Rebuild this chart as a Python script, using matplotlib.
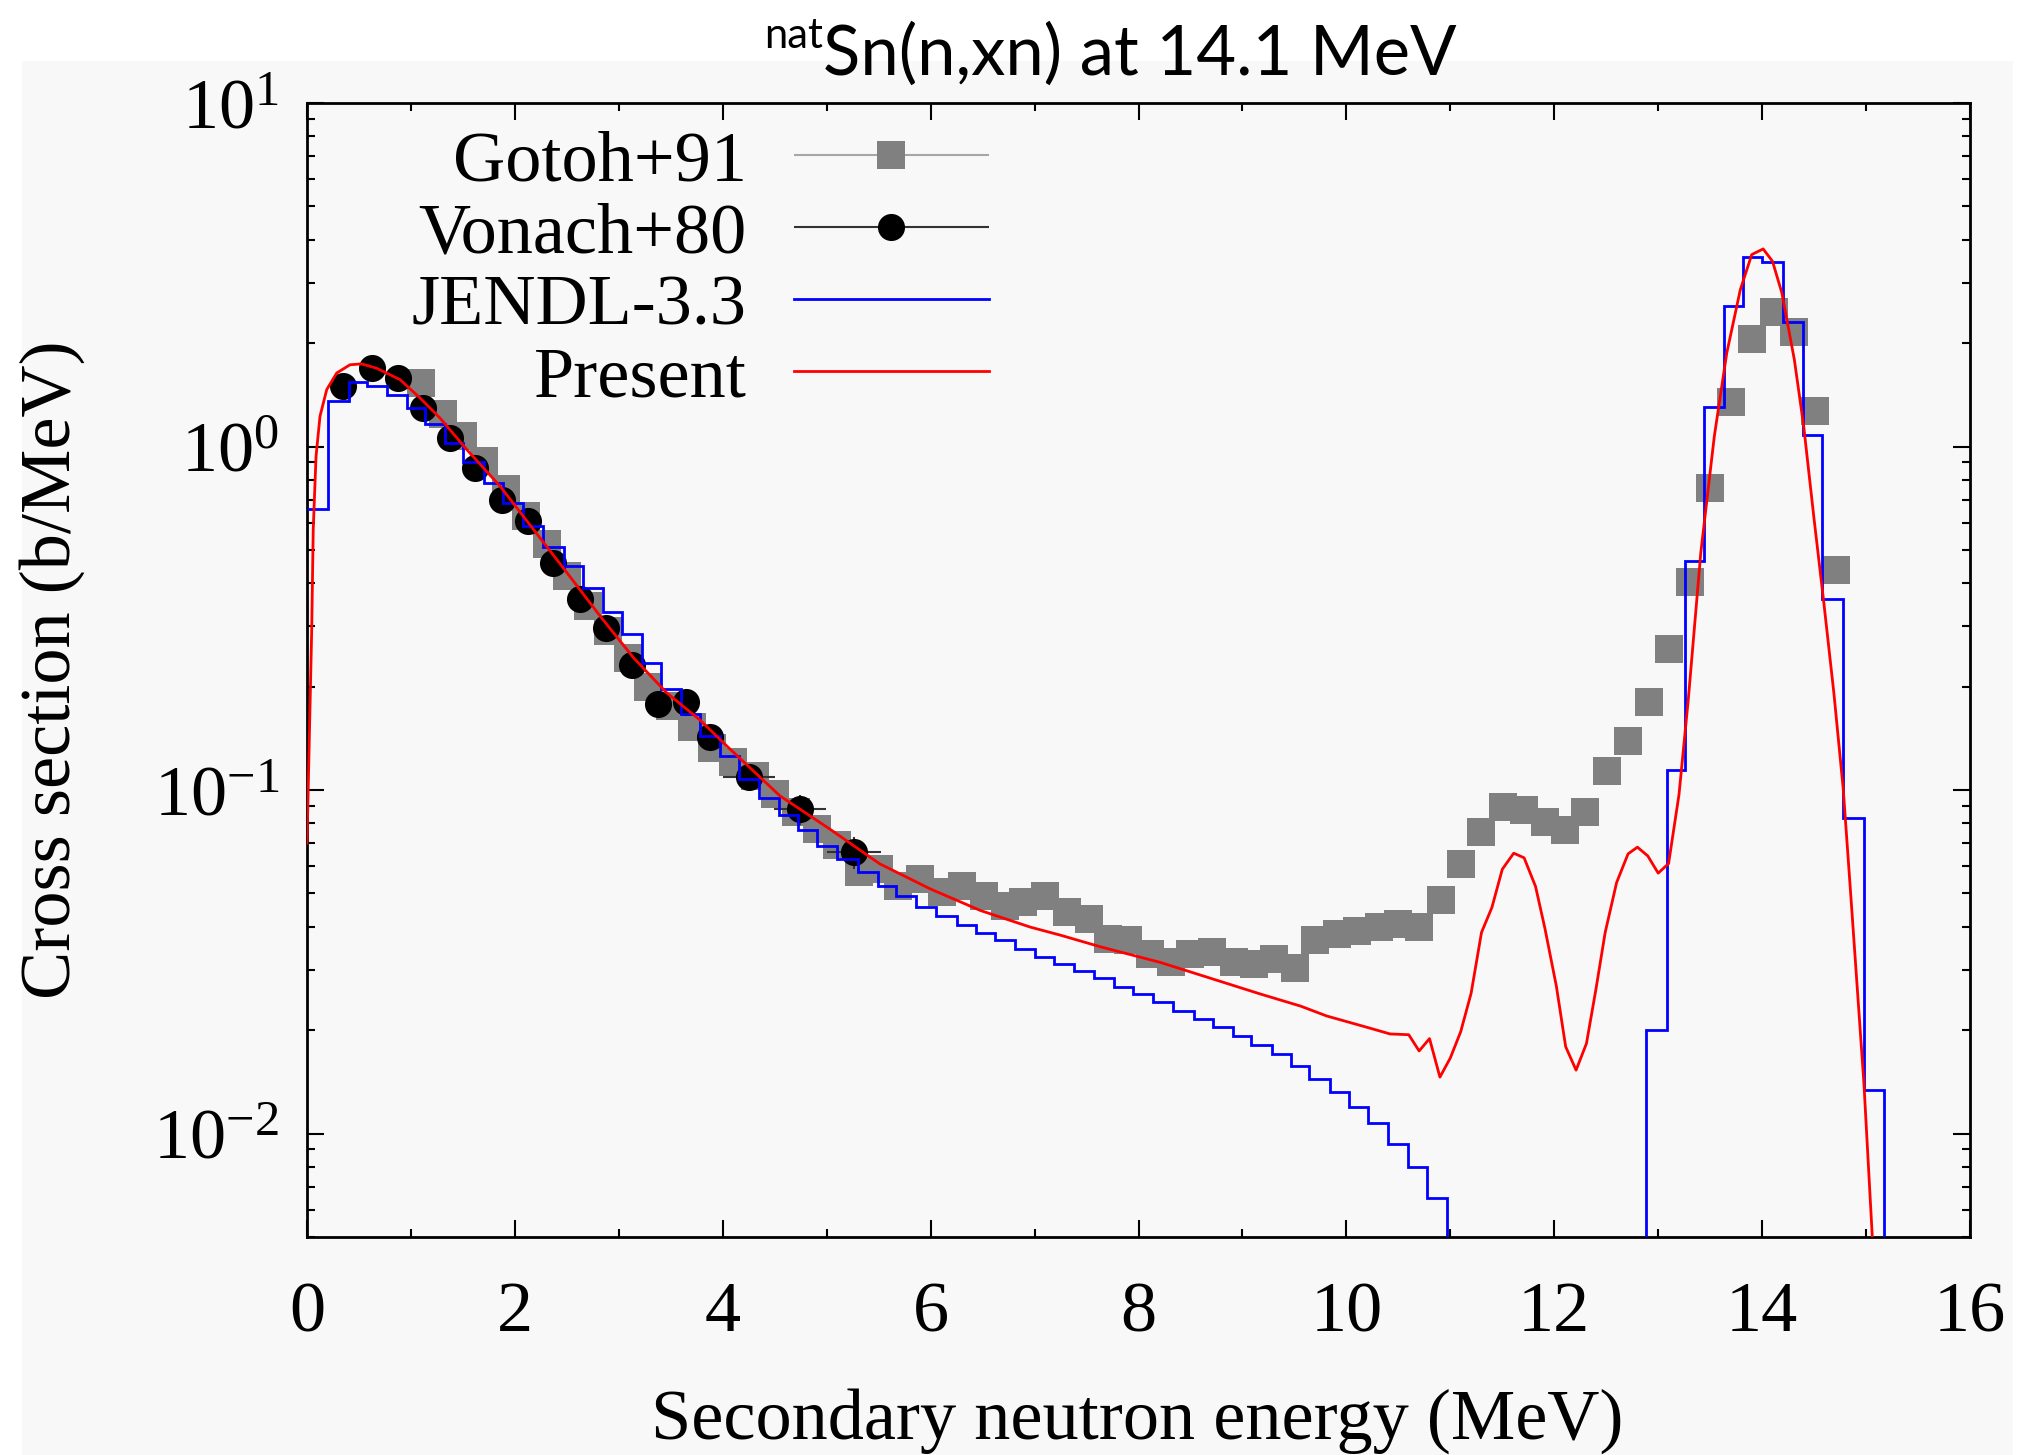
import numpy as np
import matplotlib
matplotlib.use('Agg')
import matplotlib.pyplot as plt
from matplotlib.container import ErrorbarContainer
from matplotlib.legend_handler import HandlerErrorbar
from matplotlib.patches import Rectangle
from matplotlib.ticker import MultipleLocator, NullFormatter

# Gotoh+91 data (MeV, b/MeV)
gotoh_e = [1.10, 1.31, 1.50, 1.70, 1.91, 2.11, 2.31, 2.50, 2.70, 2.90,
           3.09, 3.28, 3.49, 3.70, 3.90, 4.10, 4.31, 4.50, 4.70, 4.91,
           5.10, 5.31, 5.50, 5.69, 5.90, 6.11, 6.30, 6.51, 6.72, 6.89,
           7.10, 7.31, 7.52, 7.71, 7.90, 8.11, 8.31, 8.50, 8.71, 8.92,
           9.11, 9.30, 9.51, 9.70, 9.91, 10.10, 10.31, 10.50, 10.70, 10.91,
           11.10, 11.30, 11.51, 11.71, 11.91, 12.10, 12.30, 12.51, 12.71, 12.91,
           13.10, 13.31, 13.50, 13.70, 13.90, 14.11, 14.31, 14.51, 14.71]
gotoh_xs = [1.53, 1.24, 1.07, 0.906, 0.75, 0.627, 0.519, 0.42, 0.343, 0.290,
            0.243, 0.199, 0.176, 0.153, 0.133, 0.121, 0.110, 0.0973, 0.0863, 0.077,
            0.069, 0.0576, 0.0589, 0.0527, 0.0551, 0.0504, 0.0527, 0.0493, 0.0461, 0.0471,
            0.0493, 0.0441, 0.0422, 0.0369, 0.0365, 0.0334, 0.0315, 0.0334, 0.0337, 0.0315,
            0.0312, 0.0323, 0.0303, 0.0365, 0.0381, 0.0390, 0.0399, 0.0408, 0.0399, 0.0480,
            0.0610, 0.0754, 0.0893, 0.0874, 0.0806, 0.0763, 0.0864, 0.1136, 0.139, 0.180,
            0.257, 0.402, 0.759, 1.345, 2.06, 2.47, 2.16, 1.267, 0.437]
gotoh_de = 0.1

# Vonach+80 data
vonach_e = [0.35, 0.63, 0.88, 1.12, 1.376, 1.617, 1.874, 2.13, 2.37, 2.627,
            2.88, 3.125, 3.38, 3.65, 3.88, 4.25, 4.74, 5.26]
vonach_xs = [1.50, 1.69, 1.58, 1.296, 1.06, 0.867, 0.701, 0.607, 0.459, 0.359,
             0.297, 0.232, 0.178, 0.180, 0.143, 0.109, 0.088, 0.0659]
vonach_de = [0.12, 0.12, 0.12, 0.12, 0.12, 0.12, 0.12, 0.12, 0.12, 0.12,
             0.12, 0.12, 0.12, 0.12, 0.12, 0.25, 0.25, 0.26]
vonach_dxs = [0.05, 0.05, 0.05, 0.04, 0.03, 0.03, 0.02, 0.02, 0.015, 0.012,
              0.01, 0.008, 0.007, 0.007, 0.006, 0.009, 0.009, 0.007]

# JENDL-3.3 histogram
jendl_edges = [0.0, 0.2, 0.4, 0.58, 0.77, 0.96, 1.135, 1.33, 1.50, 1.70,
               1.89, 2.08, 2.27, 2.47, 2.66, 2.85, 3.03, 3.22, 3.41, 3.60,
               3.78, 3.97, 4.16, 4.35, 4.54, 4.72, 4.91, 5.10, 5.30, 5.49,
               5.67, 5.86, 6.05, 6.25, 6.44, 6.62, 6.81, 7.00, 7.19, 7.38,
               7.57, 7.76, 7.95, 8.14, 8.33, 8.53, 8.72, 8.91, 9.08, 9.28,
               9.47, 9.64, 9.84, 10.03, 10.21, 10.40, 10.59, 10.78, 10.97, 12.88,
               13.08, 13.26, 13.44, 13.63, 13.82, 14.00, 14.20, 14.39, 14.58, 14.78,
               14.98, 15.17, 16.0]
jendl_xs = [0.66, 1.355, 1.54, 1.50, 1.416, 1.295, 1.164, 1.025, 0.900,
            0.784, 0.686, 0.587, 0.511, 0.449, 0.388, 0.330, 0.284, 0.235, 0.197,
            0.167, 0.144, 0.126, 0.108, 0.0946, 0.0848, 0.0767, 0.0689, 0.063, 0.0576,
            0.0527, 0.0491, 0.0458, 0.0431, 0.0405, 0.0383, 0.0365, 0.0345, 0.0326, 0.0312,
            0.0298, 0.0284, 0.0268, 0.0255, 0.0241, 0.0228, 0.0216, 0.0204, 0.0192, 0.0181,
            0.0170, 0.0157, 0.01445, 0.0132, 0.01196, 0.0107, 0.00935, 0.0080, 0.0065, 0.001,
            0.0200, 0.1147, 0.464, 1.304, 2.57, 3.56, 3.44, 2.31, 1.083, 0.359,
            0.0827, 0.01337, 0.001]

# Present calculation
present_e = [0.0, 0.045, 0.06, 0.087, 0.125, 0.19, 0.286, 0.414, 0.526, 0.67,
             0.895, 1.087, 1.28, 1.537, 1.857, 2.178, 2.499, 2.82, 3.14, 3.46,
             3.78, 4.07, 4.55, 5.03, 5.51, 6.00, 6.48, 6.96, 7.25, 7.63,
             8.21, 9.17, 9.56, 9.81, 10.22, 10.42, 10.60, 10.70, 10.80, 10.90,
             11.00, 11.10, 11.20, 11.30, 11.40, 11.50, 11.61, 11.71, 11.82, 11.91,
             12.02, 12.11, 12.21, 12.31, 12.40, 12.49, 12.60, 12.71, 12.80, 12.90,
             13.00, 13.10, 13.20, 13.29, 13.41, 13.54, 13.66, 13.79, 13.90, 14.01,
             14.10, 14.19, 14.31, 14.40, 14.50, 14.59, 14.69, 14.78, 14.86, 14.98,
             15.10]
present_xs = [0.07, 0.29, 0.574, 0.937, 1.225, 1.465, 1.637, 1.73, 1.74, 1.69,
              1.566, 1.385, 1.21, 0.98, 0.767, 0.574, 0.43, 0.321, 0.243, 0.192,
              0.160, 0.1316, 0.0962, 0.077, 0.061, 0.0515, 0.0446, 0.0399, 0.0378, 0.0350,
              0.0315, 0.0255, 0.0235, 0.0220, 0.0203, 0.0195, 0.0194, 0.0174, 0.0189, 0.0146,
              0.0166, 0.0198, 0.0256, 0.0385, 0.0455, 0.0588, 0.0655, 0.0635, 0.0524, 0.0396,
              0.0269, 0.0179, 0.0153, 0.0183, 0.0262, 0.0385, 0.0538, 0.0652, 0.0682, 0.0643,
              0.0573, 0.0611, 0.0969, 0.184, 0.491, 1.071, 1.873, 2.86, 3.62, 3.76,
              3.46, 2.80, 1.79, 1.146, 0.614, 0.359, 0.192, 0.101, 0.0461, 0.0139,
              0.003]

plt.rcParams['font.family'] = ['Liberation Serif', 'DejaVu Serif']
plt.rcParams['mathtext.fontset'] = 'stix'
plt.rcParams['axes.unicode_minus'] = False

W, H = 2025, 1455
fig = plt.figure(figsize=(W / 100, H / 100), dpi=100)
fig.patch.set_facecolor('white')
# light grey slide panel behind the plot
fig.patches.append(Rectangle((22 / W, 0), (2013 - 22) / W, 1 - 61 / H,
                             transform=fig.transFigure, facecolor='#f8f8f8',
                             edgecolor='none', zorder=-10))

ax = fig.add_axes([307 / W, 1 - 1237 / H, (1970 - 307) / W, (1237 - 103) / H])
ax.set_facecolor('#f8f8f8')

gotoh = ax.errorbar(gotoh_e, gotoh_xs, xerr=gotoh_de, fmt='s', ms=19.5, mew=0,
                    color='#808080', ecolor='#a6a6a6', elinewidth=1.5, capsize=6,
                    capthick=1.5, zorder=2, label='Gotoh+91')
vonach = ax.errorbar(vonach_e, vonach_xs, xerr=vonach_de, yerr=vonach_dxs, fmt='o',
                     ms=19.5, mew=0, color='black', ecolor='#333333', elinewidth=1.5,
                     capsize=6, capthick=1.5, zorder=3, label='Vonach+80')
jendl = ax.stairs(jendl_xs, jendl_edges, baseline=None, color='#0000ff', lw=2,
                  zorder=4, label='JENDL-3.3')
present, = ax.plot(present_e, present_xs, color='#ff0000', lw=2, zorder=5,
                   label='Present')

ax.set_yscale('log')
ax.set_xlim(0, 16)
ax.set_ylim(0.005, 10)
ax.xaxis.set_major_locator(MultipleLocator(2))
ax.xaxis.set_minor_locator(MultipleLocator(1))
ax.yaxis.set_minor_formatter(NullFormatter())
ax.tick_params(which='both', direction='in', top=True, right=True, width=1.5)
ax.tick_params(which='major', length=12, labelsize=52)
ax.tick_params(axis='x', which='major', pad=32)
ax.tick_params(axis='y', which='major', pad=20)
ax.tick_params(which='minor', length=6)
for s in ax.spines.values():
    s.set_linewidth(2)

ax.set_xlabel('Secondary neutron energy (MeV)', fontsize=52, va='center')
ax.xaxis.set_label_coords(0.499, -0.162)
ax.set_ylabel('Cross section (b/MeV)', fontsize=52, va='center')
ax.yaxis.set_label_coords(-0.1533, 0.5)

ax.legend([gotoh, vonach, jendl, present],
          ['Gotoh+91', 'Vonach+80', 'JENDL-3.3', 'Present'],
          loc='upper right', bbox_to_anchor=(0.410, 0.9765), markerfirst=False,
          frameon=False, fontsize=52, handlelength=2.7, handletextpad=0.65,
          labelspacing=0.09, borderpad=0, borderaxespad=0, numpoints=1,
          handler_map={ErrorbarContainer: HandlerErrorbar(xerr_size=1.35, yerr_size=0)})

# title with superscript "nat"
fig.text(823 / W, 1 - 75 / H, 'Sn(n,xn) at 14.1 MeV', family='Lato', fontsize=49.5,
         ha='left', va='baseline')
fig.text(823 / W, 1 - 48 / H, 'nat', family='Lato', fontsize=30,
         ha='right', va='baseline')

fig.savefig('out.png', dpi=100, facecolor=fig.get_facecolor())
